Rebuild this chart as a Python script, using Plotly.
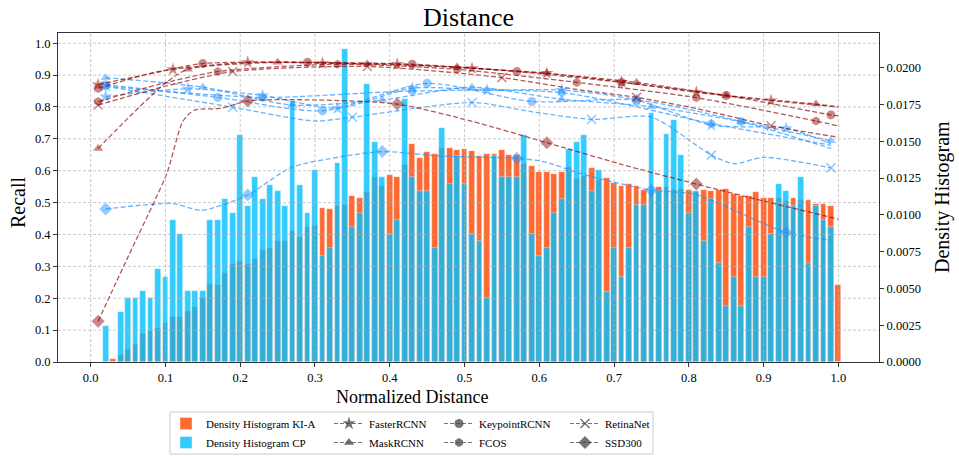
import plotly.graph_objects as go

# ---------------- data ----------------
bin_centers = [round(i / 100, 2) for i in range(1, 101)]

density_kia = [
    0.0, 0.0, 0.00023, 0.00045, 0.00087, 0.00123, 0.00190, 0.00214, 0.00231, 0.00266,
    0.00309, 0.00309, 0.00344, 0.00374, 0.00435, 0.00528, 0.00521, 0.00608, 0.00664, 0.00684,
    0.00668, 0.00699, 0.00759, 0.00777, 0.00824, 0.00824, 0.00887, 0.00850, 0.00917, 0.00928,
    0.01045, 0.01038, 0.01060, 0.01069, 0.01127, 0.01116, 0.01153, 0.01255, 0.01196, 0.01268,
    0.01255, 0.01337, 0.01484, 0.01389, 0.01428, 0.01415, 0.01456, 0.01451, 0.01441, 0.01445,
    0.01432, 0.01402, 0.01412, 0.01415, 0.01441, 0.01408, 0.01404, 0.01348, 0.01330, 0.01291,
    0.01291, 0.01278, 0.01289, 0.01324, 0.01242, 0.01263, 0.01317, 0.01237, 0.01248, 0.01216,
    0.01196, 0.01211, 0.01194, 0.01170, 0.01162, 0.01190, 0.01190, 0.01166, 0.01172, 0.01168,
    0.01153, 0.01170, 0.01159, 0.01166, 0.01175, 0.01144, 0.01131, 0.01125, 0.01155, 0.01116,
    0.01112, 0.01112, 0.01097, 0.01116, 0.01099, 0.01099, 0.01071, 0.01071, 0.01060, 0.00526,
]

density_cp = [
    0.0, 0.00242, 0.0, 0.00340, 0.00435, 0.00435, 0.00482, 0.00435, 0.00629, 0.00580,
    0.00963, 0.00872, 0.00482, 0.00482, 0.00482, 0.00963, 0.00963, 0.01110, 0.01014, 0.01544,
    0.01060, 0.01255, 0.01110, 0.01205, 0.01159, 0.01060, 0.01772, 0.01205, 0.01010, 0.01302,
    0.00722, 0.00772, 0.01352, 0.02124, 0.00917, 0.01014, 0.01886, 0.01497, 0.01255, 0.00870,
    0.00965, 0.01789, 0.01255, 0.01159, 0.01159, 0.00772, 0.01592, 0.01207, 0.01402, 0.01207,
    0.00870, 0.00820, 0.00435, 0.01402, 0.01255, 0.01255, 0.01255, 0.01544, 0.00870, 0.00722,
    0.00772, 0.01014, 0.01110, 0.01449, 0.01495, 0.01544, 0.01159, 0.01302, 0.00478, 0.00772,
    0.00580, 0.00772, 0.01064, 0.01064, 0.01694, 0.01162, 0.01547, 0.01642, 0.01404, 0.01014,
    0.01159, 0.00820, 0.01110, 0.00675, 0.00383, 0.00580, 0.00383, 0.00917, 0.00580, 0.00580,
    0.00870, 0.01207, 0.01159, 0.01060, 0.01255, 0.00675, 0.01060, 0.00965, 0.00917, 0.0,
]

# Recall curves, KI-A (dark red)
faster_ki_x = [0.01, 0.06, 0.11, 0.21, 0.31, 0.41, 0.51, 0.61, 0.71, 0.81, 0.91, 1.00]
faster_ki_y = [0.870, 0.895, 0.918, 0.940, 0.937, 0.934, 0.921, 0.906, 0.878, 0.846, 0.820, 0.800]
faster_ki_m = [0.01, 0.11, 0.21, 0.31, 0.41, 0.51, 0.61, 0.71, 0.81, 0.91]

mask_ki_x = [0.01, 0.05, 0.10, 0.13, 0.25, 0.37, 0.49, 0.61, 0.73, 0.85, 0.97, 1.00]
mask_ki_y = [0.670, 0.765, 0.875, 0.918, 0.940, 0.935, 0.925, 0.905, 0.877, 0.836, 0.809, 0.800]
mask_ki_m = [0.01, 0.13, 0.25, 0.37, 0.49, 0.61, 0.73, 0.85, 0.97]

kp_ki_x = [0.01, 0.08, 0.15, 0.29, 0.43, 0.57, 0.71, 0.85, 0.99, 1.00]
kp_ki_y = [0.859, 0.905, 0.936, 0.940, 0.934, 0.911, 0.877, 0.836, 0.775, 0.772]
kp_ki_m = [0.01, 0.15, 0.29, 0.43, 0.57, 0.71, 0.85, 0.99]

fcos_ki_x = [0.01, 0.09, 0.17, 0.33, 0.49, 0.65, 0.81, 0.97, 1.00]
fcos_ki_y = [0.817, 0.870, 0.911, 0.934, 0.918, 0.877, 0.829, 0.756, 0.740]
fcos_ki_m = [0.01, 0.17, 0.33, 0.49, 0.65, 0.81, 0.97]

retina_ki_x = [0.01, 0.10, 0.19, 0.37, 0.55, 0.65, 0.73, 0.81, 0.91, 1.00]
retina_ki_y = [0.806, 0.865, 0.911, 0.927, 0.892, 0.855, 0.830, 0.795, 0.741, 0.705]
retina_ki_m = [0.01, 0.19, 0.37, 0.55, 0.73, 0.91]

ssd_ki_x = [0.01, 0.05, 0.086, 0.102, 0.122, 0.13, 0.14, 0.175, 0.21, 0.30, 0.41, 0.51, 0.61, 0.71, 0.81, 0.90, 1.00]
ssd_ki_y = [0.128, 0.330, 0.508, 0.592, 0.749, 0.775, 0.791, 0.796, 0.819, 0.822, 0.809, 0.755, 0.688, 0.620, 0.558, 0.505, 0.448]
ssd_ki_m = [0.01, 0.21, 0.41, 0.61, 0.81]

# Recall curves, CP (blue)
faster_cp_x = [0.02, 0.13, 0.23, 0.33, 0.43, 0.53, 0.63, 0.73, 0.83, 0.93, 0.99]
faster_cp_y = [0.832, 0.857, 0.836, 0.796, 0.859, 0.853, 0.853, 0.822, 0.743, 0.733, 0.685]
faster_cp_m = [0.02, 0.13, 0.23, 0.33, 0.43, 0.53, 0.63, 0.73, 0.83, 0.93]

mask_cp_x = [0.02, 0.15, 0.27, 0.39, 0.51, 0.63, 0.75, 0.87, 0.99]
mask_cp_y = [0.892, 0.862, 0.806, 0.822, 0.862, 0.824, 0.801, 0.754, 0.694]
mask_cp_m = [0.02, 0.15, 0.27, 0.39, 0.51, 0.63, 0.75, 0.87, 0.99]

kp_cp_x = [0.02, 0.17, 0.31, 0.45, 0.59, 0.73, 0.87, 0.99]
kp_cp_y = [0.870, 0.830, 0.788, 0.874, 0.817, 0.822, 0.754, 0.670]
kp_cp_m = [0.02, 0.17, 0.31, 0.45, 0.59, 0.73, 0.87]

fcos_cp_x = [0.02, 0.23, 0.43, 0.63, 0.83, 0.99]
fcos_cp_y = [0.865, 0.830, 0.850, 0.845, 0.748, 0.680]
fcos_cp_m = [0.02, 0.23, 0.43, 0.63, 0.83]

retina_cp_x = [0.02, 0.19, 0.30, 0.35, 0.51, 0.59, 0.67, 0.75, 0.83, 0.86, 0.90, 0.99]
retina_cp_y = [0.865, 0.799, 0.756, 0.768, 0.814, 0.785, 0.761, 0.768, 0.649, 0.622, 0.642, 0.609]
retina_cp_m = [0.02, 0.19, 0.35, 0.51, 0.67, 0.83, 0.99]

ssd_cp_x = [0.02, 0.109, 0.149, 0.21, 0.268, 0.335, 0.39, 0.47, 0.57, 0.607, 0.654, 0.698, 0.75, 0.81, 0.93, 0.99]
ssd_cp_y = [0.480, 0.497, 0.476, 0.524, 0.610, 0.644, 0.660, 0.646, 0.639, 0.628, 0.592, 0.565, 0.539, 0.525, 0.406, 0.382]
ssd_cp_m = [0.02, 0.21, 0.39, 0.57, 0.75, 0.93]

x_ticks = [0.0, 0.1, 0.2, 0.3, 0.4, 0.5, 0.6, 0.7, 0.8, 0.9, 1.0]
recall_ticks = [0.1, 0.2, 0.3, 0.4, 0.5, 0.6, 0.7, 0.8, 0.9, 1.0]

model_names = ["FasterRCNN", "MaskRCNN", "KeypointRCNN", "FCOS", "RetinaNet", "SSD300"]
model_symbols = ["star", "triangle-up", "circle", "hexagon", "x-thin-open", "diamond"]
model_sizes = [10, 9, 9, 9, 9, 10]

# ---------------- styling ----------------
FONT = "Liberation Serif, Times New Roman, serif"
RED = "rgba(139,0,0,0.66)"
BLUE = "rgba(30,144,255,0.68)"
GRAY = "rgba(70,70,70,0.75)"
ORANGE_BAR = "rgba(255,69,0,0.8)"
BLUE_BAR = "rgba(0,191,255,0.8)"
GRID = "rgba(176,176,176,0.85)"

fig = go.Figure()

fig.add_trace(go.Bar(
    x=bin_centers, y=density_kia, width=0.0078, name="Density Histogram KI-A",
    marker=dict(color=ORANGE_BAR, line=dict(color="rgba(255,255,255,0.6)", width=0.6)),
    yaxis="y", legend="legend", legendrank=1,
))
fig.add_trace(go.Bar(
    x=bin_centers, y=density_cp, width=0.0078, name="Density Histogram CP",
    marker=dict(color=BLUE_BAR, line=dict(color="rgba(255,255,255,0.6)", width=0.6)),
    yaxis="y", legend="legend", legendrank=2,
))

ki_series = [
    (faster_ki_x, faster_ki_y, faster_ki_m),
    (mask_ki_x, mask_ki_y, mask_ki_m),
    (kp_ki_x, kp_ki_y, kp_ki_m),
    (fcos_ki_x, fcos_ki_y, fcos_ki_m),
    (retina_ki_x, retina_ki_y, retina_ki_m),
    (ssd_ki_x, ssd_ki_y, ssd_ki_m),
]
cp_series = [
    (faster_cp_x, faster_cp_y, faster_cp_m),
    (mask_cp_x, mask_cp_y, mask_cp_m),
    (kp_cp_x, kp_cp_y, kp_cp_m),
    (fcos_cp_x, fcos_cp_y, fcos_cp_m),
    (retina_cp_x, retina_cp_y, retina_cp_m),
    (ssd_cp_x, ssd_cp_y, ssd_cp_m),
]


def add_curve(xs, ys, marks, color, symbol, size):
    sizes = [size if x in marks else 0 for x in xs]
    lw = 1.5 if symbol.startswith("x") else 0
    fig.add_trace(go.Scatter(
        x=xs, y=ys, mode="lines+markers", yaxis="y2", showlegend=False,
        line=dict(color=color, width=1.3, dash="5px,2.5px", shape="spline", smoothing=0.7),
        marker=dict(symbol=symbol, size=sizes, color=color, line=dict(color=color, width=lw)),
        hoverinfo="skip",
    ))


for (xs, ys, ms), sym, sz in zip(cp_series, model_symbols, model_sizes):
    add_curve(xs, ys, ms, BLUE, sym, sz)
for (xs, ys, ms), sym, sz in zip(ki_series, model_symbols, model_sizes):
    add_curve(xs, ys, ms, RED, sym, sz)

legend_slots = ["legend2", "legend2", "legend3", "legend3", "legend4", "legend4"]
for i, (name, sym, sz, lg) in enumerate(zip(model_names, model_symbols, model_sizes, legend_slots)):
    lw = 1.5 if sym.startswith("x") else 0
    fig.add_trace(go.Scatter(
        x=[None], y=[None], mode="lines+markers", name=name, yaxis="y2",
        line=dict(color=GRAY, width=1.2, dash="4px,2px"),
        marker=dict(symbol=sym, size=sz, color=GRAY, line=dict(color=GRAY, width=lw)),
        legend=lg, legendrank=i + 1,
    ))

# ---------------- layout ----------------
L, R, T, B = 58, 80, 33, 94
W, H = 959, 456
PW, PH = W - L - R, H - T - B


def px2x(px):
    return (px - L) / PW


def py2y(py):
    return (H - B - py) / PH


shapes = []
for xv in x_ticks:
    shapes.append(dict(type="line", xref="x", yref="paper", x0=xv, x1=xv, y0=0, y1=1,
                       line=dict(color=GRID, width=0.8, dash="3px,2px"), layer="above"))
for yv in recall_ticks:
    shapes.append(dict(type="line", xref="paper", yref="y2", x0=0, x1=1, y0=yv, y1=yv,
                       line=dict(color=GRID, width=0.8, dash="3px,2px"), layer="above"))
shapes.append(dict(type="rect", xref="paper", yref="paper",
                   x0=px2x(170), x1=px2x(653), y0=py2y(454), y1=py2y(412),
                   line=dict(color="#cccccc", width=1), fillcolor="rgba(255,255,255,0.85)",
                   layer="above"))

legend_common = dict(orientation="v", xanchor="left", yanchor="top", bgcolor="rgba(0,0,0,0)",
                     borderwidth=0, font=dict(family=FONT, size=11, color="black"),
                     tracegroupgap=0, itemwidth=30, itemclick=False)

LEG_TOP = 409
fig.update_layout(
    width=W, height=H,
    margin=dict(l=L, r=R, t=T, b=B, pad=0, autoexpand=False),
    paper_bgcolor="white", plot_bgcolor="white",
    font=dict(family=FONT, size=12.5, color="black"),
    barmode="overlay", bargap=0,
    title=dict(text="Distance", x=0.5, xref="paper", xanchor="center",
               y=1 - 17 / H, yref="container", yanchor="middle",
               font=dict(family=FONT, size=26, color="black")),
    xaxis=dict(range=[-0.0437, 1.0543], tick0=0, dtick=0.1, tickformat=".1f",
               ticks="outside", ticklen=4, tickwidth=1, tickcolor="#333",
               showline=True, linecolor="#333", linewidth=1, mirror=True,
               showgrid=False, zeroline=False, tickfont=dict(size=12.5)),
    yaxis=dict(range=[0, 0.02235], tick0=0, dtick=0.0025, tickformat=".4f", side="right",
               ticks="outside", ticklen=4, tickwidth=1, tickcolor="#333",
               showline=True, linecolor="#333", linewidth=1,
               showgrid=False, zeroline=False, tickfont=dict(size=12.5)),
    yaxis2=dict(range=[0, 1.032], tick0=0, dtick=0.1, tickformat=".1f", side="left",
                overlaying="y", ticks="outside", ticklen=4, tickwidth=1, tickcolor="#333",
                showline=True, linecolor="#333", linewidth=1,
                showgrid=False, zeroline=False, tickfont=dict(size=12.5)),
    shapes=shapes,
    legend=dict(x=px2x(166), y=py2y(LEG_TOP), **legend_common),
    legend2=dict(x=px2x(329), y=py2y(LEG_TOP), **legend_common),
    legend3=dict(x=px2x(439), y=py2y(LEG_TOP), **legend_common),
    legend4=dict(x=px2x(565), y=py2y(LEG_TOP), **legend_common),
    annotations=[
        dict(text="Recall", xref="paper", yref="paper", x=px2x(18), y=py2y(202),
             showarrow=False, textangle=-90, xanchor="center", yanchor="middle",
             font=dict(family=FONT, size=20, color="black")),
        dict(text="Density Histogram", xref="paper", yref="paper", x=px2x(942), y=py2y(197),
             showarrow=False, textangle=-90, xanchor="center", yanchor="middle",
             font=dict(family=FONT, size=20, color="black")),
        dict(text="Normalized Distance", xref="paper", yref="paper", x=px2x(412), y=py2y(397),
             showarrow=False, xanchor="center", yanchor="middle",
             font=dict(family=FONT, size=18, color="black")),
    ],
)

fig.write_html("out.html")
